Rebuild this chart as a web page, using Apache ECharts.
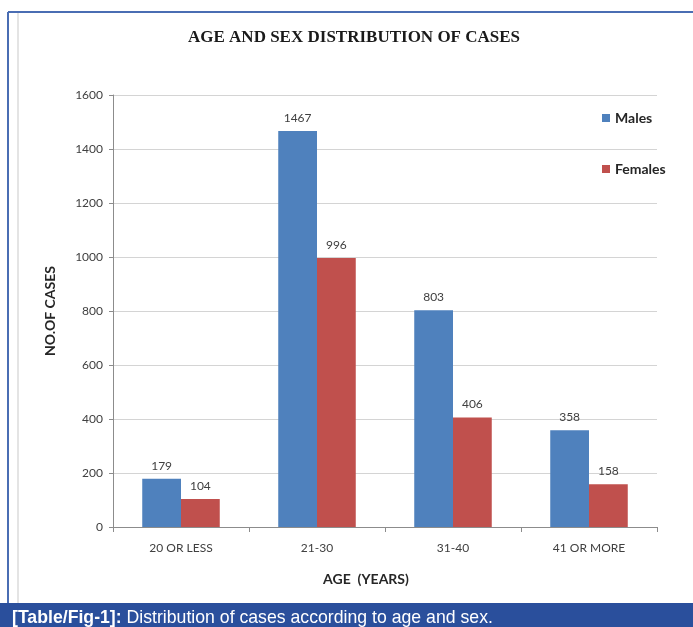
<!DOCTYPE html>
<html lang="en">
<head>
  <meta charset="UTF-8">
  <title>Age and sex distribution of cases</title>
  <style>
    body { margin: 0; padding: 0; background: #fff; }
    #chart { width: 693px; height: 627px; }
  </style>
  <script src="https://cdn.jsdelivr.net/npm/echarts@6/dist/echarts.min.js"></script>
</head>
<body>
  <div id="chart"></div>
  <script>
    // data
    const ageGroups = ['20 OR LESS', '21-30', '31-40', '41 OR MORE'];
    const males = [179, 1467, 803, 358];
    const females = [104, 996, 406, 158];
    const yTicks = { min: 0, max: 1600, step: 200 };

    const chart = echarts.init(document.getElementById('chart'));
    const labelStyle = { show: true, position: 'top', distance: 7, color: '#404040', fontSize: 12, fontFamily: 'Lato' };

    chart.setOption({
      animation: false,
      title: {
        text: 'AGE AND SEX DISTRIBUTION OF CASES',
        left: 183,
        top: 24,
        textStyle: { fontFamily: 'Liberation Serif', fontWeight: 'bold', fontSize: 17, color: '#1a1a1a' }
      },
      legend: {
        orient: 'vertical',
        left: 597,
        top: 106,
        itemGap: 37,
        itemWidth: 8,
        itemHeight: 8,
        icon: 'rect',
        textStyle: { fontFamily: 'Lato', fontWeight: 'bold', fontSize: 14, color: '#262626' },
        data: ['Males', 'Females']
      },
      grid: { left: 113, right: 36, top: 95, bottom: 100 },
      xAxis: {
        type: 'category',
        data: ageGroups,
        name: 'AGE  (YEARS)',
        nameLocation: 'middle',
        nameGap: 45,
        nameTextStyle: { fontFamily: 'Lato', fontWeight: 'bold', fontSize: 14, color: '#262626', padding: [0, 38, 0, 0] },
        axisLine: { lineStyle: { color: '#8c8c8c' } },
        axisTick: { show: true, length: 5, lineStyle: { color: '#8c8c8c' } },
        axisLabel: { fontFamily: 'Lato', fontSize: 12, color: '#404040', margin: 15 }
      },
      yAxis: {
        type: 'value',
        min: yTicks.min,
        max: yTicks.max,
        interval: yTicks.step,
        name: 'NO.OF CASES',
        nameLocation: 'middle',
        nameGap: 56,
        nameTextStyle: { fontFamily: 'Lato', fontWeight: 'bold', fontSize: 14, color: '#262626' },
        axisLine: { show: true, lineStyle: { color: '#8c8c8c' } },
        axisTick: { show: true, length: 4, lineStyle: { color: '#8c8c8c' } },
        axisLabel: { fontFamily: 'Lato', fontSize: 12, color: '#404040', margin: 10, formatter: v => String(v) },
        splitLine: { lineStyle: { color: '#d4d4d4' } }
      },
      series: [
        {
          name: 'Males', type: 'bar', data: males,
          barGap: '0%', barCategoryGap: '43%',
          itemStyle: { color: '#4f81bd' },
          label: labelStyle
        },
        {
          name: 'Females', type: 'bar', data: females,
          itemStyle: { color: '#c0504d' },
          label: labelStyle
        }
      ],
      graphic: [
        { type: 'line', shape: { x1: 8, y1: 12, x2: 693, y2: 12 }, style: { stroke: '#4a6db3', lineWidth: 2 } },
        { type: 'line', shape: { x1: 8, y1: 12, x2: 8, y2: 603 }, style: { stroke: '#4a6db3', lineWidth: 2 } },
        { type: 'line', shape: { x1: 18, y1: 13, x2: 18, y2: 603 }, style: { stroke: '#c9c9c9', lineWidth: 1 } },
        { type: 'rect', shape: { x: 0, y: 603, width: 693, height: 24 }, style: { fill: '#2a4f9c' } },
        {
          type: 'text', x: 12, y: 608, scaleX: 0.93,
          style: {
            text: '{b|[Table/Fig-1]:} Distribution of cases according to age and sex.',
            fill: '#ffffff', font: '19px "Liberation Sans"',
            rich: { b: { fontWeight: 'bold', fontSize: 19, fontFamily: 'Liberation Sans', fill: '#ffffff' } }
          }
        }
      ]
    });
  </script>
</body>
</html>
